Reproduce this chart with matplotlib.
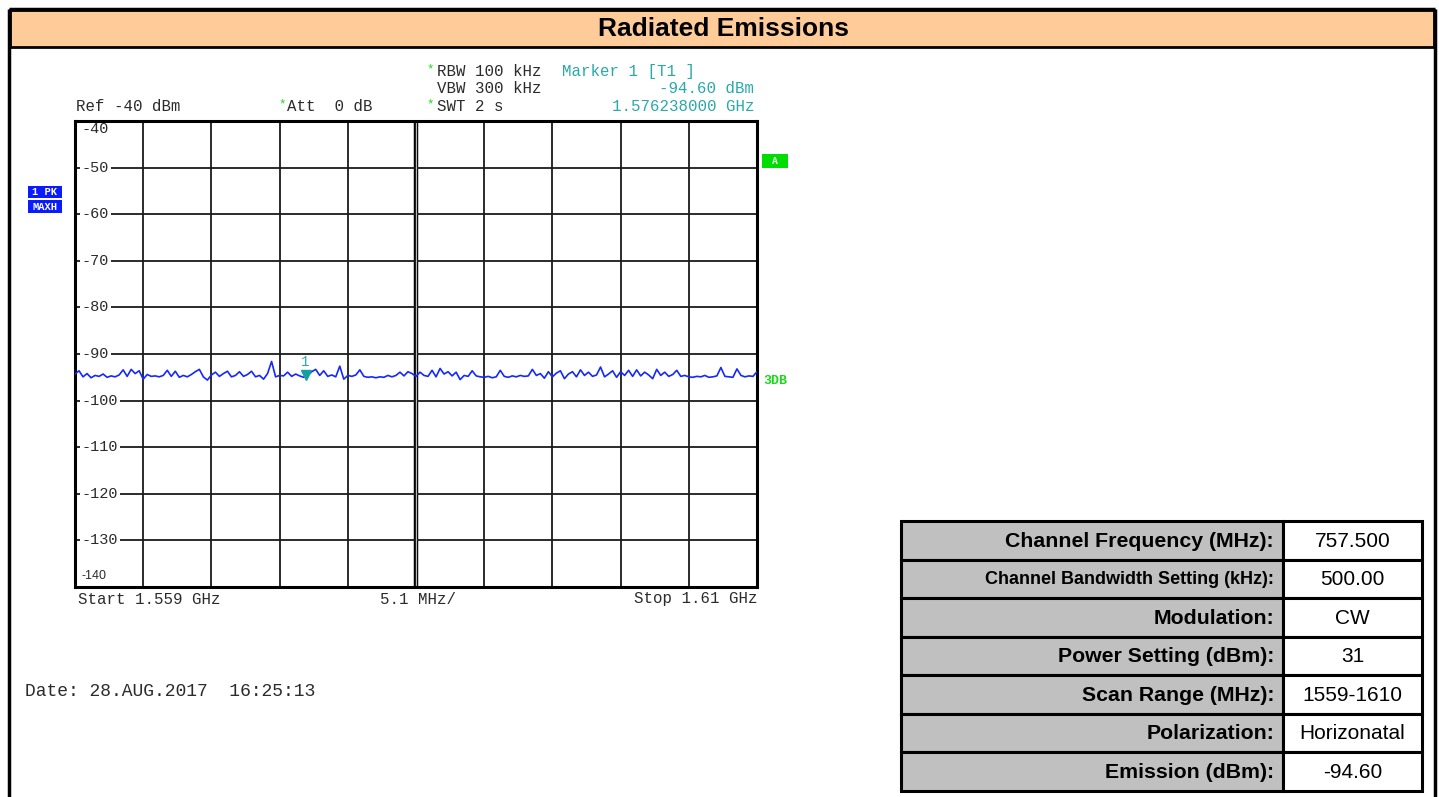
"""
Radiated emissions screenshot: spectrum analyser trace (1559-1610 MHz) plus
the test-settings table on the right.
Output: out.png
"""
import matplotlib

matplotlib.use("agg")
import matplotlib.pyplot as plt  # noqa: E402
import numpy as np  # noqa: E402
from matplotlib.patches import Rectangle  # noqa: E402

MONO = "Liberation Mono"
SANS = "Liberation Sans"

# sweep settings
F_START, F_STOP = 1559.0, 1610.0      # MHz
REF_LEVEL, BOTTOM = -40, -140          # dBm
LEVELS = [-40, -50, -60, -70, -80, -90, -100, -110, -120, -130, -140]

# max-hold trace (dBm), evenly spaced over the sweep
TRACE = [
    -94.3, -93.6, -94.9, -94.2, -95.1, -94.6, -94.8, -94.3, -95.0, -94.7,
    -94.9, -94.5, -93.4, -94.8, -93.3, -94.2, -93.6, -95.4, -94.4, -94.8,
    -94.7, -94.9, -94.6, -93.5, -94.8, -93.7, -95.0, -94.6, -94.9, -94.4,
    -93.8, -93.3, -94.9, -95.6, -94.5, -93.9, -94.8, -94.2, -93.7, -94.9,
    -94.6, -93.8, -94.8, -94.4, -93.7, -94.9, -94.6, -95.4, -94.2, -91.6,
    -94.9, -94.6, -94.7, -93.9, -94.8, -94.3, -94.7, -95.0, -94.6, -93.8,
    -93.3, -94.6, -93.6, -94.8, -94.5, -94.9, -92.6, -95.4, -94.6, -94.8,
    -94.5, -93.4, -94.8, -95.0, -94.9, -95.1, -94.9, -95.0, -94.6, -94.9,
    -94.6, -93.9, -94.7, -93.8, -94.2, -94.8, -93.9, -94.6, -94.8, -93.5,
    -94.9, -93.1, -94.3, -93.8, -94.7, -93.9, -95.5, -94.6, -94.8, -93.6,
    -94.7, -94.9, -95.0, -94.8, -95.1, -94.9, -93.5, -94.8, -95.0, -94.7,
    -94.9, -94.6, -94.8, -94.7, -93.3, -94.6, -94.2, -95.2, -93.8, -94.9,
    -94.1, -93.6, -95.3, -94.3, -93.8, -94.9, -93.4, -94.6, -93.9, -94.8,
    -94.5, -92.8, -94.9, -94.3, -93.6, -95.0, -93.8, -94.6, -93.5, -94.8,
    -93.4, -94.7, -93.9, -94.5, -95.3, -93.3, -94.6, -93.9, -94.8, -94.4,
    -93.5, -94.8, -94.6, -94.9, -95.0, -94.8, -94.9, -94.6, -95.0, -94.9,
    -94.7, -92.9, -94.8, -94.9, -95.0, -93.2, -94.6, -94.9, -94.7, -94.8,
    -93.8,
]
MARKER_F = 1576.238     # MHz
MARKER_DB = -94.60

TABLE_LABELS = [
    "Channel Frequency (MHz):",
    "Channel Bandwidth Setting (kHz):",
    "Modulation:",
    "Power Setting (dBm):",
    "Scan Range (MHz):",
    "Polarization:",
    "Emission (dBm):",
]
TABLE_VALUES = ["757.500", "500.00", "CW", "31", "1559-1610", "Horizonatal", "-94.60"]

TEAL = "#2aa9a9"
GREEN = "#19d919"
BLUE = "#0a1cff"
INK = "#2b2b2b"

W, H = 1439, 797
fig = plt.figure(figsize=(W / 100, H / 100), dpi=100)

# page overlay in pixel coordinates
pg = fig.add_axes([0, 0, 1, 1])
pg.set_xlim(0, W)
pg.set_ylim(H, 0)
pg.axis("off")

pg.add_patch(Rectangle((10, 10), 1424, 37, fc="#FFCC99", ec="black", lw=2, zorder=2))
for xs, ys in (([9, 9], [9, H]), ([1435, 1435], [9, H]), ([9, 1435], [9, 9])):
    pg.plot(xs, ys, color="black", lw=2.5, zorder=3, solid_capstyle="butt")
pg.text(723, 29, "Radiated Emissions", ha="center", va="center",
        fontsize=19, fontweight="bold", family=SANS)


# instrument header
def mono(x, y, s, color=INK, ha="left", size=11.3, **kw):
    pg.text(x, y, s, ha=ha, va="center", color=color, fontsize=size, family=MONO, **kw)


mono(76, 106, "Ref -40 dBm")
mono(278, 104, "*", color=GREEN, size=9)
mono(287, 106, "Att  0 dB")
mono(426, 69, "*", color=GREEN, size=9)
mono(437, 71, "RBW 100 kHz")
mono(437, 88, "VBW 300 kHz")
mono(426, 104, "*", color=GREEN, size=9)
mono(437, 106, "SWT 2 s")
mono(562, 71, "Marker 1 [T1 ]", color=TEAL)
mono(754, 88, f"{MARKER_DB:.2f} dBm", color=TEAL, ha="right")
mono(754, 106, f"{MARKER_F / 1000:.9f} GHz", color=TEAL, ha="right")

# trace-mode boxes and limit line tags
pg.add_patch(Rectangle((28, 186), 34, 12, fc=BLUE, ec="none"))
pg.add_patch(Rectangle((28, 200), 34, 13, fc=BLUE, ec="none"))
mono(45, 192, "1 PK", color="white", ha="center", size=7.5, fontweight="bold")
mono(45, 206.5, "MAXH", color="white", ha="center", size=7.5, fontweight="bold")
pg.add_patch(Rectangle((762, 154), 26, 14, fc="#00dd00", ec="none"))
mono(775, 161, "A", color="white", ha="center", size=7, fontweight="bold")
mono(763, 381, "3DB", color=GREEN, size=9.5, fontweight="bold")

mono(78, 599, f"Start {F_START / 1000:.3f} GHz")
mono(418, 599, f"{(F_STOP - F_START) / 10:.1f} MHz/", ha="center")
mono(757, 599, f"Stop {F_STOP / 1000:.2f} GHz", ha="right")
mono(25, 692, "Date: 28.AUG.2017  16:25:13", size=13)

# spectrum display
ax = fig.add_axes([75 / W, 1 - 587 / H, 682 / W, 466 / H])
ax.set_xlim(F_START, F_STOP)
ax.set_ylim(BOTTOM, REF_LEVEL)
ax.set_xticks(np.linspace(F_START, F_STOP, 11))
ax.set_yticks(LEVELS)
ax.tick_params(length=0, labelbottom=False, labelleft=False)
ax.grid(color="#1a1a1a", lw=1.3)
for sp in ax.spines.values():
    sp.set_linewidth(2.2)
ax.axvline((F_START + F_STOP) / 2, color="black", lw=3.2, zorder=1.5)
ax.axvline((F_START + F_STOP) / 2, color="#bbbbbb", lw=0.8, zorder=1.6)

ytr = ax.get_yaxis_transform()
for lev in LEVELS:
    if lev == REF_LEVEL:
        ax.text(0.01, lev - 1.8, str(lev), transform=ytr, va="center",
                fontsize=11, family=MONO, color=INK)
    elif lev == BOTTOM:
        ax.text(0.01, lev + 2.3, str(lev), transform=ytr, va="center",
                fontsize=9, family=SANS, color=INK)
    else:
        ax.text(0.01, lev, str(lev), transform=ytr, va="center", fontsize=11,
                family=MONO, color=INK, zorder=3,
                bbox=dict(fc="white", ec="none", pad=1))

freq = np.linspace(F_START, F_STOP, len(TRACE))
ax.plot(freq, TRACE, color="#1428ff", lw=1.2, zorder=4)
ax.plot([MARKER_F], [MARKER_DB], marker="v", ms=7, color="#14a0a0", zorder=5)
ax.annotate("1", (MARKER_F, MARKER_DB), xytext=(0, 10), textcoords="offset points",
            ha="center", va="center", color=TEAL, fontsize=10, family=MONO)

# settings table
x0, xm, x1 = 901, 1283, 1422
y0, rh = 521, 38.5
for i, (lab, val) in enumerate(zip(TABLE_LABELS, TABLE_VALUES)):
    top = y0 + i * rh
    pg.add_patch(Rectangle((x0, top), xm - x0, rh, fc="#c0c0c0", ec="black", lw=2.2))
    pg.add_patch(Rectangle((xm, top), x1 - xm, rh, fc="white", ec="black", lw=2.2))
    size = 13 if len(lab) > 26 else 15.3
    pg.text(xm - 9, top + rh / 2 + 1, lab, ha="right", va="center", fontsize=size,
            fontweight="bold", family=SANS)
    pg.text((xm + x1) / 2, top + rh / 2 + 1, val, ha="center", va="center",
            fontsize=15, family=SANS)

fig.savefig("out.png", dpi=100)
